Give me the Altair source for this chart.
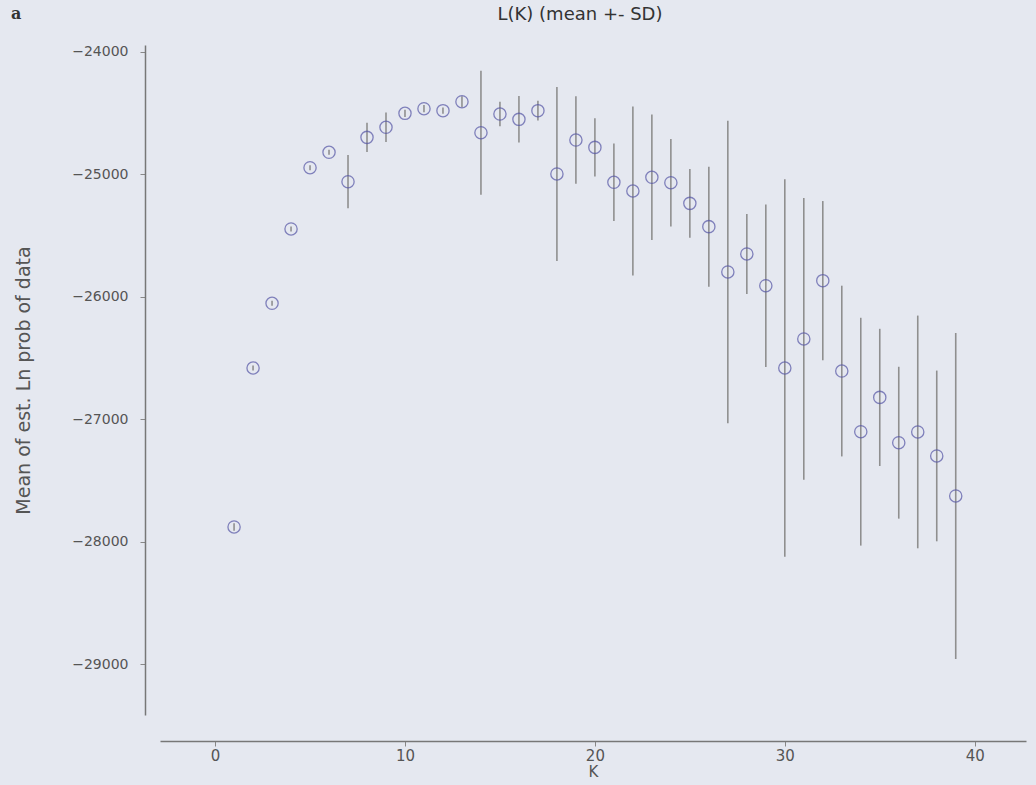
import altair as alt
import pandas as pd

K = list(range(1, 40))
mean_lnp = [-27880, -26582, -26054, -25447, -24947, -24821, -25061, -24699, -24617, -24503,
            -24465, -24481, -24408, -24661, -24509, -24552, -24481, -24998, -24721, -24781,
            -25066, -25137, -25025, -25069, -25238, -25428, -25798, -25651, -25910, -26582,
            -26345, -25869, -26607, -27102, -26822, -27192, -27104, -27300, -27627]
sd_lnp = [30, 20, 20, 20, 20, 20, 217, 120, 120, 30,
          30, 25, 45, 506, 100, 190, 80, 710, 357, 238,
          316, 690, 513, 357, 280, 490, 1235, 327, 663, 1540,
          1150, 650, 697, 930, 560, 620, 950, 697, 1330]

df = pd.DataFrame({"K": K, "mean": mean_lnp, "sd": sd_lnp})
df["lo"] = df["mean"] - df["sd"]
df["hi"] = df["mean"] + df["sd"]

x_scale = alt.Scale(domain=[-2.9, 42.7], nice=False, zero=False)
y_scale = alt.Scale(domain=[-29415, -23945], nice=False, zero=False)

x_axis = alt.Axis(values=[0, 10, 20, 30, 40], title="K", offset=26, grid=False,
                  labelFontSize=15, titleFontSize=15, labelColor="#555", titleColor="#555",
                  domainColor="#777", domainWidth=1.5, tickColor="#888", tickSize=5,
                  labelPadding=2, titlePadding=1, titleFontWeight="normal",
                  labelFont="DejaVu Sans", titleFont="DejaVu Sans")
y_axis = alt.Axis(values=[-24000, -25000, -26000, -27000, -28000, -29000],
                  title="Mean of est. Ln prob of data", offset=15, grid=False, format="d",
                  labelFontSize=14, titleFontSize=19, labelColor="#555", titleColor="#555",
                  domainColor="#777", domainWidth=1.5, tickColor="#888", tickSize=5,
                  labelPadding=12, titlePadding=38, titleFontWeight="normal",
                  labelFont="DejaVu Sans", titleFont="DejaVu Sans")

base = alt.Chart(df)

bars = base.mark_rule(color="#8f8f8f", strokeWidth=1.6).encode(
    x=alt.X("K:Q", scale=x_scale, axis=x_axis),
    y=alt.Y("lo:Q", scale=y_scale, axis=y_axis),
    y2="hi:Q",
)

pts = base.mark_point(shape="circle", filled=False, color="#5555a5", size=150, strokeWidth=1.3).encode(
    x=alt.X("K:Q", scale=x_scale),
    y=alt.Y("mean:Q", scale=y_scale),
)

panel = alt.Chart(pd.DataFrame({"t": ["a"]})).mark_text(
    font="DejaVu Serif", fontWeight="bold", fontSize=16, color="#333", align="left", baseline="top"
).encode(x=alt.value(-149), y=alt.value(-39), text="t:N")

title = alt.Chart(pd.DataFrame({"t": ["L(K) (mean +- SD)"]})).mark_text(
    font="DejaVu Sans", fontSize=18, color="#333", align="center", baseline="middle"
).encode(x=alt.value(420), y=alt.value(-30), text="t:N")

chart = alt.layer(bars, pts, panel, title).properties(
    width=866, height=670,
    background="#e5e8f0",
    autosize=alt.AutoSizeParams(type="none"),
    padding={"left": 160, "top": 45, "right": 10, "bottom": 70},
).configure_view(stroke=None)

chart.save("out.html", embed_options={"renderer": "svg", "actions": False})
